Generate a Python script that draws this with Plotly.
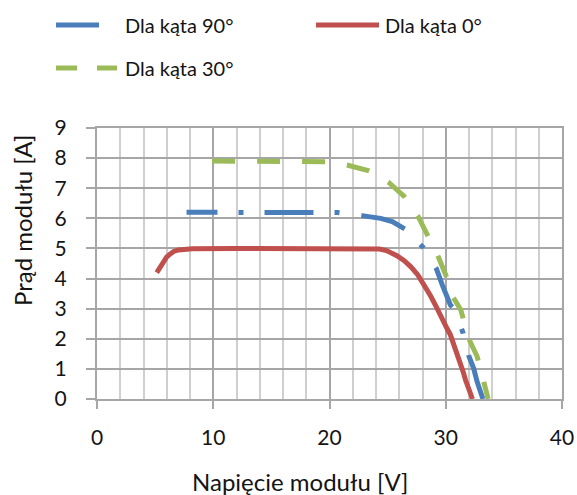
import plotly.graph_objects as go

# ---- data ----
v_90 = [7.7, 10.5, 12.3, 14.6, 18.7, 20.7, 22.8, 24.4, 25.4, 26.55, 28.05, 29.2, 29.7, 30.1, 30.4, 30.7, 31.5, 32.0, 32.4, 32.7, 33.2]
i_90 = [6.2, 6.2, 6.2, 6.2, 6.2, 6.19, 6.09, 6.0, 5.89, 5.63, 5.04, 4.32, 3.79, 3.46, 3.12, 3.01, 2.18, 1.41, 1.02, 0.57, 0.0]

v_0 = [5.14, 5.4, 5.7, 6.0, 6.3, 6.6, 7.0, 7.6, 8.2, 12.0, 16.0, 20.0, 23.5, 24.3, 24.9, 25.4, 25.8, 26.4, 27.0, 27.6, 28.2, 28.7, 29.2, 29.7, 30.1, 30.4, 30.8, 31.15, 31.5, 31.7, 31.9, 32.1, 32.3]
i_0 = [4.2, 4.38, 4.57, 4.72, 4.82, 4.9, 4.95, 4.98, 4.99, 5.0, 5.0, 5.01, 5.0, 4.98, 4.93, 4.85, 4.76, 4.6, 4.39, 4.12, 3.75, 3.42, 3.05, 2.62, 2.35, 2.13, 1.72, 1.30, 0.9, 0.63, 0.38, 0.18, 0.0]

v_30 = [9.9, 15.0, 19.7, 21.5, 23.4, 25.1, 26.4, 27.6, 28.4, 29.3, 30.0, 30.6, 31.3, 31.9, 32.7, 33.2, 33.65]
i_30 = [7.9, 7.9, 7.88, 7.77, 7.58, 7.19, 6.74, 6.08, 5.48, 4.78, 4.12, 3.40, 2.96, 2.07, 1.41, 0.63, 0.0]

names = ["Dla kąta 90°", "Dla kąta 0°", "Dla kąta 30°"]
colors = ["#4A7EBB", "#C0504D", "#9BBB59"]

x_ticks = [0, 10, 20, 30, 40]
y_ticks = list(range(0, 10))

FONT = "Lato, 'Open Sans', sans-serif"
TXT = "#141414"
FS = 20
FS_TICK = 21
FS_TITLE = 24

# plot area in pixels
W, H = 577, 495
L, R, T, B = 97, 562, 128, 399


def px(x):
    return (x - L) / (R - L)


def py(y):
    return (B - y) / (B - T)


fig = go.Figure()
fig.add_trace(go.Scatter(
    x=v_90, y=i_90, mode="lines", name=names[0], showlegend=False,
    line=dict(color=colors[0], width=5,
              dash="31px,21px,5px,21px,49px,21px,5px,22px,46px,22px,5px,23px,43px,24px,5px,22px,60px"),
))
fig.add_trace(go.Scatter(
    x=v_0, y=i_0, mode="lines", name=names[1], showlegend=False,
    line=dict(color=colors[1], width=5),
))
fig.add_trace(go.Scatter(
    x=v_30, y=i_30, mode="lines", name=names[2], showlegend=False,
    line=dict(color=colors[2], width=5, dash="23px,22px"),
))

# ---- custom legend (shapes + text) ----
shapes = []
annotations = []
leg = [
    (names[0], colors[0], [(55, 100)], 25, 123),
    (names[1], colors[1], [(315, 380)], 25, 383),
    (names[2], colors[2], [(55, 78), (96, 118)], 68, 123),
]
for name, col, segs, yy, tx in leg:
    for a, b in segs:
        shapes.append(dict(type="line", xref="paper", yref="paper",
                           x0=px(a + 1), x1=px(b - 1), y0=py(yy), y1=py(yy),
                           line=dict(color=col, width=5)))
    annotations.append(dict(text=name, xref="paper", yref="paper",
                            x=px(tx), y=py(yy), xanchor="left", yanchor="middle",
                            showarrow=False, font=dict(family=FONT, size=FS, color=TXT)))

# axis titles
annotations.append(dict(text="Napięcie modułu [V]", xref="paper", yref="paper",
                        x=px(300), y=py(481), xanchor="center", yanchor="middle",
                        showarrow=False, font=dict(family=FONT, size=FS_TITLE, color=TXT)))
annotations.append(dict(text="Prąd modułu [A]", xref="paper", yref="paper",
                        x=px(22), y=py(221), xanchor="center", yanchor="middle",
                        textangle=-90, showarrow=False,
                        font=dict(family=FONT, size=FS_TITLE, color=TXT)))

fig.update_layout(
    width=W, height=H,
    margin=dict(l=L, r=W - R, t=T, b=H - B, autoexpand=False),
    paper_bgcolor="white", plot_bgcolor="white",
    showlegend=False,
    shapes=shapes, annotations=annotations,
    font=dict(family=FONT, size=FS, color=TXT),
)
fig.update_xaxes(
    range=[0, 40], tickvals=x_ticks, ticktext=[str(t) for t in x_ticks],
    showgrid=True, gridcolor="#A6A6A6", gridwidth=2,
    minor=dict(dtick=2, showgrid=True, gridcolor="#CFCFCF", gridwidth=2, ticks=""),
    showline=True, linecolor="#A6A6A6", linewidth=2, mirror=True,
    ticks="outside", ticklen=8, tickwidth=2, tickcolor="#A6A6A6",
    ticklabelstandoff=11, zeroline=False, automargin=False,
    tickfont=dict(family=FONT, size=FS_TICK, color=TXT),
)
fig.update_yaxes(
    range=[0, 9], tickvals=y_ticks, ticktext=[str(t) for t in y_ticks],
    showgrid=True, gridcolor="#A6A6A6", gridwidth=2,
    showline=True, linecolor="#A6A6A6", linewidth=2, mirror=True,
    ticks="outside", ticklen=9, tickwidth=2, tickcolor="#A6A6A6",
    ticklabelstandoff=15, zeroline=False, automargin=False,
    tickfont=dict(family=FONT, size=FS_TICK, color=TXT),
)

fig.write_html(
    "out.html",
    config={"displayModeBar": False},
    post_script="document.body.style.margin='0';document.body.style.overflow='hidden';",
)
